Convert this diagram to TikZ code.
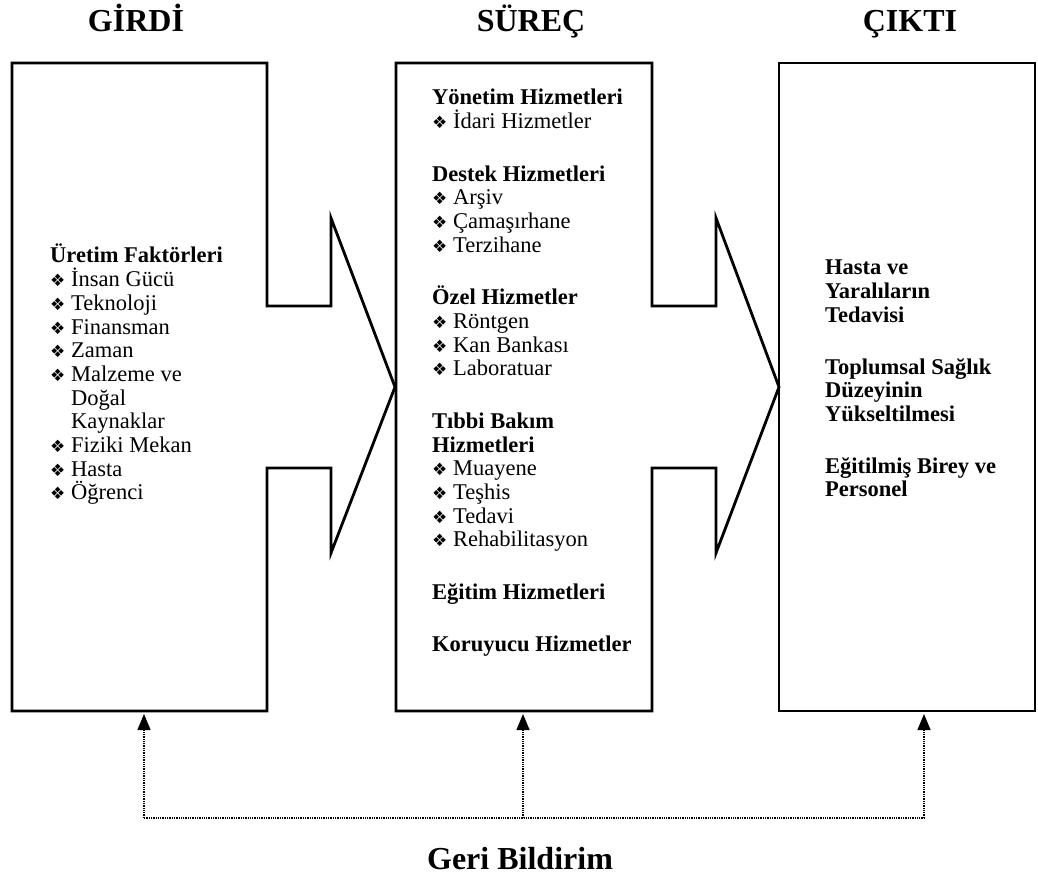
\documentclass[tikz,border=0pt]{standalone}
\usepackage{fontspec}
\setmainfont{Liberation Serif}
\newfontfamily\bulfont{DejaVu Sans}
\usetikzlibrary{arrows.meta}

\newcommand{\kolon}[1]{\vtop{\baselineskip=23.7pt\lineskiplimit=-100pt\relax #1}}
\newcommand{\satir}[1]{\hbox{#1}}
\newcommand{\madde}[1]{\hbox{\makebox[21pt][l]{\bulfont\fontsize{17}{17}\selectfont ❖}#1}}
\newcommand{\devam}[1]{\hbox{\hspace*{21pt}#1}}

\begin{document}
\begin{tikzpicture}[x=1pt,y=-1pt,
    kutu/.style={line width=2.8pt, line join=miter},
    baslik/.style={font=\fontsize{32}{36}\selectfont\bfseries, anchor=base, inner sep=0pt},
    liste/.style={font=\fontsize{22.5}{23.7}\selectfont, anchor=base west, inner sep=0pt},
    geri/.style={line width=1.3pt, densely dotted},
    ucu/.style={-{Triangle[length=16pt,width=13pt]}}]
    \useasboundingbox (0,0) rectangle (1038,882);

    % Basliklar
    \node[baslik] (girdi) at (136,32) {GİRDİ};
    \node[baslik] (surec) at (531,32) {SÜREÇ};
    \node[baslik] (cikti) at (910,32) {ÇIKTI};

    % Girdi kutusu (ok seklinde)
    \draw[kutu] (12,63) -- (267,63) -- (267,306) -- (331,306) -- (331,218) -- (395,387)
        -- (331,553) -- (331,468) -- (267,468) -- (267,711) -- (12,711) -- cycle;
    % Surec kutusu (ok seklinde)
    \draw[kutu] (396,63) -- (652,63) -- (652,306) -- (716,306) -- (716,218) -- (779,387)
        -- (716,553) -- (716,468) -- (652,468) -- (652,711) -- (396,711) -- cycle;
    % Cikti kutusu
    \draw[kutu] (779,63) rectangle (1035,711);

    % Girdi listesi
    \node[liste] (uretim) at (50,263) {\kolon{
        \satir{\textbf{Üretim Faktörleri}}
        \madde{İnsan Gücü}
        \madde{Teknoloji}
        \madde{Finansman}
        \madde{Zaman}
        \madde{Malzeme ve}
        \devam{Doğal}
        \devam{Kaynaklar}
        \madde{Fiziki Mekan}
        \madde{Hasta}
        \madde{Öğrenci}}};

    % Surec listesi
    \node[liste] (hizmetler) at (432,105) {\kolon{
        \satir{\textbf{Yönetim Hizmetleri}}
        \madde{İdari Hizmetler}\vskip28.8pt
        \satir{\textbf{Destek Hizmetleri}}
        \madde{Arşiv}
        \madde{Çamaşırhane}
        \madde{Terzihane}\vskip28.8pt
        \satir{\textbf{Özel Hizmetler}}
        \madde{Röntgen}
        \madde{Kan Bankası}
        \madde{Laboratuar}\vskip28.8pt
        \satir{\textbf{Tıbbi Bakım}}
        \satir{\textbf{Hizmetleri}}
        \madde{Muayene}
        \madde{Teşhis}
        \madde{Tedavi}
        \madde{Rehabilitasyon}\vskip28.8pt
        \satir{\textbf{Eğitim Hizmetleri}}\vskip28.8pt
        \satir{\textbf{Koruyucu Hizmetler}}}};

    % Cikti listesi
    \node[liste, font={\fontsize{22.5}{23.7}\selectfont\bfseries}] (sonuclar) at (825,275) {\kolon{
        \satir{Hasta ve}
        \satir{Yaralıların}
        \satir{Tedavisi}\vskip28pt
        \satir{Toplumsal Sağlık}
        \satir{Düzeyinin}
        \satir{Yükseltilmesi}\vskip28pt
        \satir{Eğitilmiş Birey ve}
        \satir{Personel}}};

    % Geri bildirim
    \coordinate (girdi-alt) at (144,714);
    \coordinate (surec-alt) at (523,714);
    \coordinate (cikti-alt) at (924,714);
    \coordinate (fb-sol) at (144,818);
    \coordinate (fb-orta) at (523,818);
    \coordinate (fb-sag) at (924,818);
    \draw[geri] (fb-sol) -- (fb-sag);
    \draw[geri,ucu] (fb-sol) -- (girdi-alt);
    \draw[geri,ucu] (fb-orta) -- (surec-alt);
    \draw[geri,ucu] (fb-sag) -- (cikti-alt);
    \node[baslik] (geribildirim) at (520,869) {Geri Bildirim};
\end{tikzpicture}
\end{document}
